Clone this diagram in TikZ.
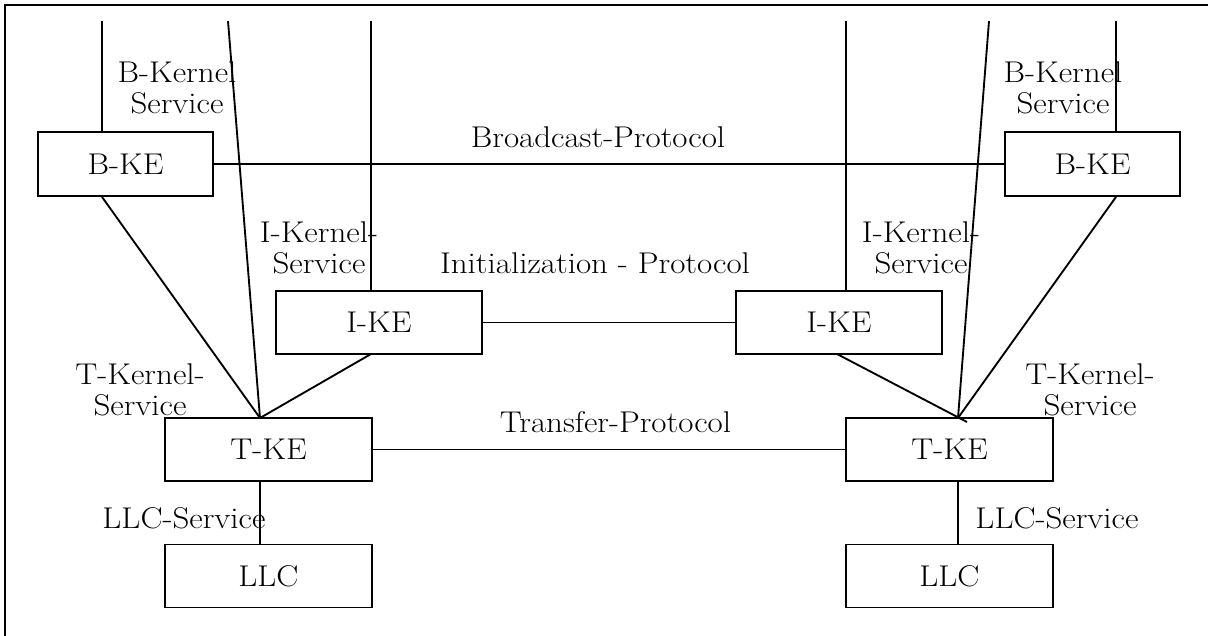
\documentclass[tikz,border=0pt]{standalone}
\usepackage{fontspec}
\setmainfont{Latin Modern Roman}[FakeStretch=1.1]
\usetikzlibrary{calc}
\begin{document}
\begin{tikzpicture}[x=0.75pt,y=-0.75pt,
  every path/.style={line width=1.4pt},
  lbl/.style={font=\fontsize{22.5}{23.25}\selectfont, inner sep=0pt, align=center, anchor=base},
  bkebox/.style={draw, line width=1.4pt, minimum width=131.25pt, minimum height=48pt, inner sep=0pt, font=\fontsize{22.5}{23.25}\selectfont},
  kebox/.style={draw, line width=1.4pt, minimum width=155pt, minimum height=47.25pt, inner sep=0pt, font=\fontsize{22.5}{23.25}\selectfont}]
\useasboundingbox (0,0) rectangle (1208,636);
% frame
\coordinate (fbl) at (5,640);
\coordinate (ftl) at (5,5);
\coordinate (ftr) at (1212,5);
\draw[line width=1.2pt] (fbl) -- (ftl) -- (ftr);
% boxes
\node[bkebox] (bkeL) at (125.5,164) {B-KE};
\node[bkebox] (bkeR) at (1092.5,164) {B-KE};
\node[kebox] (ikeL) at (379,322.5) {I-KE};
\node[kebox] (ikeR) at (839,322.5) {I-KE};
\node[kebox] (tkeL) at (268.5,449.5) {T-KE};
\node[kebox] (tkeR) at (949.5,449.5) {T-KE};
\node[kebox] (llcL) at (268.5,576) {LLC};
\node[kebox] (llcR) at (949.5,576) {LLC};
% free ends and junctions
\coordinate (tL1) at (102,21);
\coordinate (tL2) at (228,21);
\coordinate (tL3) at (371,21);
\coordinate (tR1) at (846,21);
\coordinate (tR2) at (989,21);
\coordinate (tR3) at (1116,21);
\coordinate (jL) at (260,418);
\coordinate (jR) at (958,418);
\coordinate (ikeLb) at (371,354);
\coordinate (ikeRb) at (837,354);
\coordinate (jRx) at (967,422);
% left connectors
\draw (tL1) -- (tL1 |- bkeL.north);
\draw (tL2) -- (jL);
\draw (tL3) -- (tL3 |- ikeL.north);
\draw (bkeL.south -| tL1) -- (jL);
\draw (ikeLb) -- (jL);
\draw (tkeL.south -| jL) -- (llcL.north -| jL);
% right connectors
\draw (tR1) -- (tR1 |- ikeR.north);
\draw (tR2) -- (jR);
\draw (tR3) -- (tR3 |- bkeR.north);
\draw (bkeR.south -| tR3) -- (jR);
\draw (ikeRb) -- (jRx);
\draw (tkeR.south -| jR) -- (llcR.north -| jR);
% protocols
\draw (bkeL.east) -- (bkeR.west);
\draw (ikeL.east) -- (ikeR.west);
\draw (tkeL.east) -- (tkeR.west);
% labels
\node[lbl] (lbB) at (177,113) {B-Kernel\\Service};
\node[lbl] (lbI) at (319,273) {I-Kernel-\\Service};
\node[lbl] (lbT) at (140,415) {T-Kernel-\\Service};
\node[lbl] (lbLLC) at (184,528) {LLC-Service};
\node[lbl] (rbB) at (1063,113) {B-Kernel\\Service};
\node[lbl] (rbI) at (921,273) {I-Kernel-\\Service};
\node[lbl] (rbT) at (1090,415) {T-Kernel-\\Service};
\node[lbl] (rbLLC) at (1057,528) {LLC-Service};
\node[lbl] (pB) at (598,147) {Broadcast-Protocol};
\node[lbl] (pI) at (595,273) {Initialization - Protocol};
\node[lbl] (pT) at (615.5,432) {Transfer-Protocol};
\end{tikzpicture}
\end{document}
